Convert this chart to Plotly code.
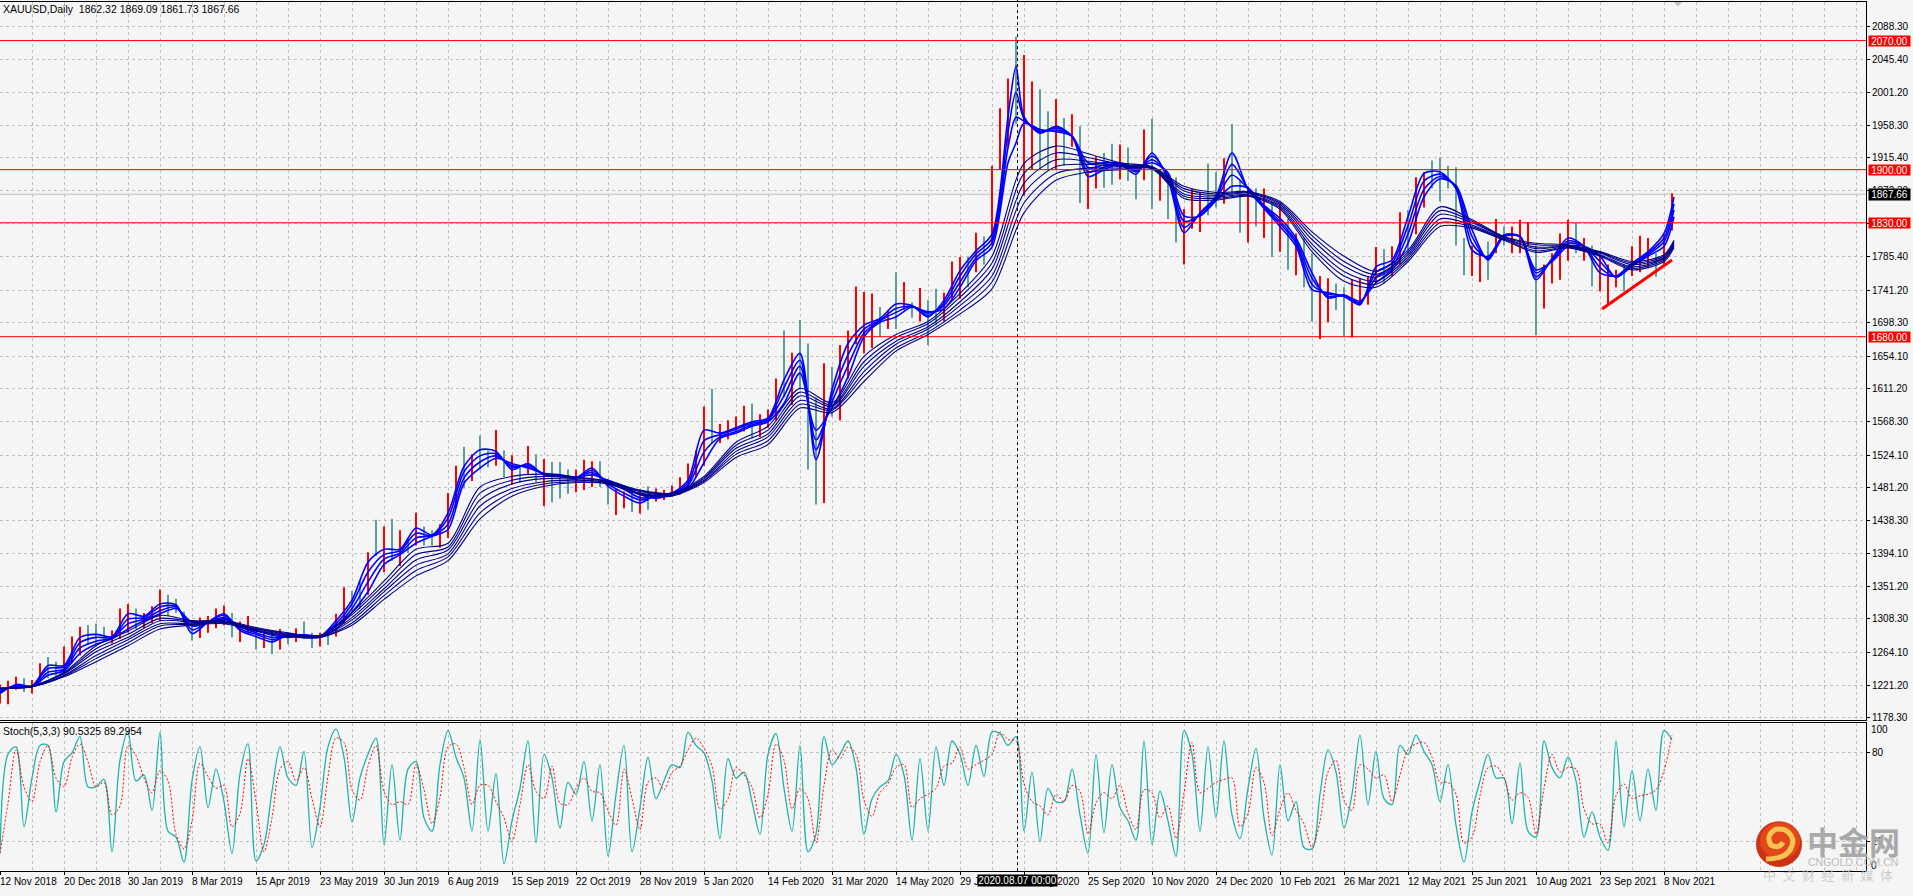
import plotly.graph_objects as go

W, H = 1913, 896
# ---------- price data ----------
bar_index = list(range(0, 840, 4))
bar_high = [1222,1227,1232,1230,1228,1250,1258,1252,1272,1285,1298,1300,1302,1298,1293,1322,1328,1322,1316,1325,1347,1340,1335,1318,1304,1310,1312,1322,1326,1316,1305,1312,1296,1290,1292,1295,1290,1296,1305,1290,1290,1288,1315,1350,1345,1358,1396,1439,1430,1440,1425,1415,1448,1430,1425,1433,1474,1510,1535,1525,1550,1530,1557,1530,1524,1510,1536,1525,1519,1515,1515,1505,1505,1518,1516,1516,1493,1480,1476,1475,1478,1483,1480,1478,1484,1495,1513,1530,1588,1611,1565,1570,1575,1589,1592,1578,1584,1625,1688,1659,1702,1671,1600,1645,1640,1669,1688,1746,1739,1737,1719,1715,1765,1752,1725,1744,1728,1743,1738,1779,1785,1785,1817,1812,1905,1981,2020,2075,2051,2016,2006,1977,1993,1968,1973,1957,1900,1918,1922,1934,1933,1929,1895,1953,1967,1900,1895,1890,1848,1875,1870,1908,1897,1915,1960,1885,1878,1875,1875,1855,1855,1835,1816,1810,1790,1760,1757,1750,1745,1755,1757,1760,1798,1795,1799,1844,1847,1890,1897,1912,1916,1905,1903,1810,1800,1795,1805,1835,1825,1825,1834,1831,1800,1775,1790,1816,1834,1830,1810,1800,1788,1775,1768,1775,1799,1813,1810,1790,1815,1869]
bar_low = [1197,1196,1215,1212,1210,1225,1230,1232,1235,1250,1260,1275,1275,1279,1276,1282,1290,1295,1296,1303,1306,1312,1316,1300,1280,1283,1290,1296,1300,1284,1278,1288,1268,1270,1262,1268,1275,1278,1282,1270,1272,1274,1285,1302,1318,1322,1340,1391,1370,1385,1378,1395,1405,1405,1405,1402,1415,1455,1480,1490,1505,1508,1510,1495,1485,1488,1498,1488,1457,1462,1467,1473,1475,1478,1482,1482,1459,1445,1454,1449,1447,1452,1463,1465,1470,1472,1480,1495,1510,1540,1540,1545,1555,1555,1546,1548,1560,1570,1600,1590,1610,1505,1459,1461,1575,1570,1625,1670,1658,1665,1680,1690,1690,1715,1705,1700,1669,1695,1700,1730,1730,1745,1765,1775,1800,1900,1930,1960,1866,1900,1900,1900,1900,1905,1930,1856,1848,1875,1876,1880,1887,1885,1861,1886,1848,1859,1835,1804,1775,1822,1818,1840,1850,1855,1865,1817,1804,1825,1810,1785,1792,1768,1761,1745,1700,1677,1699,1715,1680,1679,1725,1722,1750,1750,1760,1775,1790,1815,1850,1875,1858,1875,1800,1761,1760,1752,1755,1790,1800,1790,1790,1800,1682,1717,1750,1755,1780,1790,1780,1746,1740,1722,1745,1740,1760,1765,1770,1759,1775,1820]
bar_rising = [1,1,1,0,1,1,0,0,1,1,1,0,0,0,1,1,1,0,1,1,1,0,0,0,0,1,1,1,1,0,1,1,0,1,0,1,0,1,0,0,1,0,1,1,0,0,1,0,1,0,1,0,1,0,0,1,1,1,0,1,0,0,1,0,1,0,1,0,1,0,0,0,1,1,1,0,0,1,1,0,1,0,1,1,1,1,1,1,1,0,1,1,1,1,0,1,1,1,0,1,0,0,0,1,0,1,1,1,1,1,0,1,0,1,0,1,0,0,1,1,1,0,1,0,1,1,1,0,1,1,0,0,1,0,1,0,1,1,0,0,1,0,0,1,0,1,0,0,1,1,1,0,0,1,0,0,1,0,1,0,1,0,1,0,0,1,1,0,0,1,1,1,1,0,1,1,0,1,1,0,0,0,0,0,1,1,0,1,0,1,1,1,0,1,1,1,1,0,1,0,1,1,1,0,1,1,1,0,1,1]

fast_bars = [0,8,16,24,32,40,48,56,64,72,80,88,96,104,112,120,128,136,144,152,160,168,176,184,192,200,208,216,224,232,240,248,256,264,272,280,288,296,304,312,320,328,336,344,352,360,368,376,384,392,400,408,416,424,432,440,448,456,464,472,480,488,496,504,508,512,520,528,536,544,552,560,568,576,584,592,600,608,616,624,632,640,648,656,664,672,680,688,696,704,712,720,728,736,744,752,760,768,776,784,792,800,808,816,824,832,837]
ema_fast_1 = [1210,1222,1220,1247,1247,1284,1288,1285,1315,1312,1328,1327,1289,1304,1315,1293,1285,1278,1287,1287,1285,1306,1333,1383,1400,1400,1428,1419,1448,1509,1531,1529,1505,1513,1498,1496,1494,1507,1483,1470,1461,1472,1474,1491,1557,1553,1560,1568,1573,1623,1658,1518,1610,1671,1695,1704,1723,1721,1706,1728,1767,1793,1815,1970,2036,1970,1948,1957,1944,1891,1900,1907,1894,1922,1887,1817,1843,1865,1922,1874,1849,1825,1799,1742,1738,1733,1722,1772,1781,1838,1895,1897,1875,1794,1786,1814,1812,1755,1783,1810,1799,1764,1760,1777,1792,1816,1864]
ema_fast_2 = [1212,1221,1220,1243,1245,1277,1284,1284,1308,1310,1324,1325,1294,1304,1313,1295,1288,1281,1286,1287,1285,1302,1328,1370,1393,1398,1421,1418,1441,1502,1523,1526,1508,1511,1499,1497,1494,1504,1486,1474,1465,1470,1474,1487,1543,1551,1558,1566,1571,1613,1649,1531,1602,1656,1690,1702,1717,1720,1708,1724,1760,1789,1809,1950,2002,1967,1950,1955,1944,1897,1903,1908,1897,1918,1890,1824,1842,1863,1907,1875,1850,1829,1803,1749,1736,1734,1724,1765,1777,1826,1885,1894,1876,1803,1784,1813,1812,1759,1782,1806,1799,1771,1759,1776,1790,1810,1855]
ema_fast_3 = [1214,1220,1219,1238,1242,1270,1279,1283,1302,1308,1319,1324,1299,1304,1310,1298,1290,1284,1285,1287,1286,1299,1322,1357,1387,1395,1415,1418,1433,1494,1515,1523,1510,1509,1499,1497,1495,1501,1488,1479,1468,1469,1473,1484,1528,1548,1555,1564,1570,1602,1641,1544,1594,1642,1685,1701,1712,1720,1711,1721,1752,1784,1804,1929,1969,1964,1951,1952,1944,1903,1906,1908,1899,1913,1893,1832,1840,1861,1893,1875,1852,1832,1806,1757,1733,1734,1725,1758,1772,1815,1874,1891,1878,1812,1783,1813,1812,1764,1780,1803,1799,1779,1759,1774,1788,1805,1847]
ema_fast_4 = [1216,1219,1219,1234,1240,1263,1275,1282,1295,1306,1315,1322,1304,1304,1308,1300,1293,1287,1284,1287,1286,1295,1317,1344,1380,1393,1408,1417,1426,1487,1507,1520,1513,1507,1500,1498,1495,1498,1491,1483,1472,1467,1473,1480,1514,1546,1553,1562,1568,1592,1632,1557,1586,1627,1680,1699,1706,1719,1713,1717,1745,1780,1798,1909,1935,1961,1953,1950,1944,1909,1909,1909,1902,1909,1896,1839,1839,1859,1878,1876,1853,1836,1810,1764,1731,1735,1727,1751,1768,1803,1864,1888,1879,1821,1781,1812,1812,1768,1779,1799,1799,1786,1758,1773,1786,1799,1838]

slow_bars = [0,16,32,48,64,80,96,112,128,144,160,176,192,208,224,240,256,272,288,304,320,336,352,368,384,400,416,432,448,464,480,496,512,528,544,560,576,592,608,624,640,656,672,688,704,720,736,752,768,784,800,816,832,837]
ema_slow_1 = [1217,1220,1238,1273,1292,1313,1306,1306,1297,1290,1286,1317,1358,1400,1408,1482,1496,1499,1495,1490,1478,1474,1496,1541,1562,1612,1593,1654,1683,1700,1737,1786,1908,1931,1921,1909,1904,1878,1870,1871,1858,1818,1786,1766,1794,1851,1834,1812,1803,1801,1792,1779,1788,1807]
ema_slow_2 = [1217,1220,1237,1269,1288,1309,1305,1305,1296,1289,1286,1314,1353,1393,1403,1474,1491,1496,1494,1489,1477,1473,1494,1537,1557,1607,1590,1647,1679,1697,1732,1777,1895,1922,1916,1907,1903,1875,1868,1870,1856,1813,1779,1762,1791,1846,1832,1811,1801,1800,1791,1777,1786,1805]
ema_slow_3 = [1217,1220,1236,1265,1284,1306,1304,1304,1295,1288,1285,1310,1348,1386,1399,1465,1486,1493,1492,1488,1476,1472,1493,1533,1552,1602,1588,1641,1674,1693,1726,1769,1882,1913,1911,1905,1903,1872,1866,1869,1854,1808,1773,1758,1788,1841,1830,1810,1798,1799,1790,1775,1784,1803]
ema_slow_4 = [1217,1219,1234,1260,1281,1302,1302,1304,1294,1287,1285,1307,1344,1379,1394,1457,1480,1489,1491,1488,1474,1472,1491,1529,1548,1596,1585,1634,1670,1690,1721,1760,1869,1904,1907,1904,1902,1868,1864,1867,1852,1802,1766,1753,1785,1835,1827,1809,1796,1799,1788,1772,1783,1801]
ema_slow_5 = [1217,1219,1233,1256,1277,1299,1301,1303,1293,1286,1284,1303,1339,1372,1390,1448,1475,1486,1489,1487,1473,1471,1490,1525,1543,1591,1583,1628,1665,1686,1715,1752,1856,1895,1902,1902,1902,1865,1862,1866,1850,1797,1760,1749,1782,1830,1825,1808,1793,1798,1787,1770,1781,1799]
ema_slow_6 = [1217,1219,1232,1252,1273,1295,1300,1302,1292,1285,1284,1300,1334,1365,1385,1440,1470,1483,1488,1486,1472,1470,1488,1521,1538,1586,1580,1621,1661,1683,1710,1743,1843,1886,1897,1900,1901,1862,1860,1865,1848,1792,1753,1745,1779,1825,1823,1807,1791,1797,1786,1768,1779,1797]

level_prices = [2070, 1900, 1830, 1680]
level_labels = ["2070.00", "1900.00", "1830.00", "1680.00"]
last_price = 1867.66
last_label = "1867.66"
trend_bars = [801, 836]
trend_prices = [1716.4, 1781]
separator_bar = 508.75
separator_label = "2020.08.07 00:00"

price_ticks = [2088.30,2045.40,2001.20,1958.30,1915.40,1872.30,1829.30,1785.40,1741.20,1698.30,1654.10,1611.20,1568.30,1524.10,1481.20,1438.30,1394.10,1351.20,1308.30,1264.10,1221.20,1178.30]
price_tick_text = [f"{v:.2f}" for v in price_ticks]

date_bars = list(range(0, 864, 32))
date_labels = ["12 Nov 2018","20 Dec 2018","30 Jan 2019","8 Mar 2019","15 Apr 2019","23 May 2019","30 Jun 2019","6 Aug 2019","15 Sep 2019","22 Oct 2019","28 Nov 2019","5 Jan 2020","14 Feb 2020","31 Mar 2020","14 May 2020","29 Jun 2020","11 Aug 2020","25 Sep 2020","10 Nov 2020","24 Dec 2020","10 Feb 2021","26 Mar 2021","12 May 2021","25 Jun 2021","10 Aug 2021","23 Sep 2021","8 Nov 2021"]

# ---------- stochastic data ----------
stoch_bars = list(range(0, 840, 4))
stoch_main = [12,79,84,30,63,85,85,40,74,80,91,57,57,62,13,75,94,61,65,41,94,27,23,6,61,84,43,69,47,12,66,86,7,18,54,84,63,58,81,16,43,84,96,77,33,63,79,90,18,72,21,69,74,36,27,72,95,77,63,27,89,27,66,
5,34,56,88,19,79,63,29,60,52,74,34,72,10,52,85,13,43,77,49,61,72,70,94,85,80,61,22,76,63,67,47,25,79,93,56,27,85,13,25,91,72,79,88,70,25,49,57,61,79,65,21,76,27,84,58,88,79,58,85,64,94,93,
85,91,27,67,20,56,47,47,69,38,12,79,26,72,43,34,21,88,18,54,34,10,95,79,27,84,36,88,38,22,56,83,36,11,72,34,47,16,15,52,82,67,29,52,92,45,81,49,45,85,79,92,81,72,47,72,31,6,40,61,79,63,
63,32,73,27,23,88,70,63,77,61,23,40,23,14,88,30,68,34,69,41,95,89]
stoch_signal = [12,46,82,57,47,74,85,63,57,77,86,74,57,60,38,44,85,78,63,53,68,61,25,15,34,73,64,56,58,30,39,76,47,13,36,69,74,61,70,49,30,64,90,87,55,48,71,85,54,45,47,45,72,55,32,50,84,86,70,45,58,58,47,
36,20,45,72,54,49,71,46,45,56,63,54,53,41,31,69,49,28,60,63,55,67,71,82,90,83,71,42,49,70,65,57,36,52,86,75,42,56,49,19,58,82,76,84,79,48,37,53,59,70,72,43,49,52,56,71,73,84,69,72,75,79,94,
89,88,59,47,44,38,52,47,58,54,25,46,53,49,58,39,28,55,53,36,44,22,53,87,53,56,60,62,63,30,39,70,60,24,42,53,41,32,16,34,67,75,48,41,72,69,63,65,47,65,82,86,87,77,60,60,52,19,23,51,70,71,
63,48,53,50,25,56,79,67,70,69,42,32,32,19,51,59,49,51,52,55,68,92]

# ---------- page geometry helpers ----------
BG = "#f5f5f5"; GRID = "#c0c0c0"; RED = "#ff0000"; TEAL = "#5f9ea0"; BLUE = "#0000ff"; NAVY = "#00008b"
FONT = "Liberation Sans"
def px(x): return x / W
def py(y): return 1 - y / H
DASH = "3px,3px"
RIGHT = px(1866)

traces = []
traces.append(go.Bar(x=bar_index, y=[h - l for h, l in zip(bar_high, bar_low)], base=bar_low, width=0.75,
                     marker=dict(color=[RED if r else TEAL for r in bar_rising], line=dict(width=0)), hoverinfo="skip"))
for series in (ema_fast_4, ema_fast_3, ema_fast_2, ema_fast_1):
    traces.append(go.Scatter(x=fast_bars, y=series, mode="lines", line=dict(color=BLUE, width=1.6, shape="spline", smoothing=0.8), hoverinfo="skip"))
for series in (ema_slow_6, ema_slow_5, ema_slow_4, ema_slow_3, ema_slow_2, ema_slow_1):
    traces.append(go.Scatter(x=slow_bars, y=series, mode="lines", line=dict(color=NAVY, width=1.1, shape="spline", smoothing=0.8), hoverinfo="skip"))
traces.append(go.Scatter(x=trend_bars, y=trend_prices, mode="lines", line=dict(color=RED, width=3), hoverinfo="skip"))
traces.append(go.Scatter(x=stoch_bars, y=stoch_main, xaxis="x2", yaxis="y2", mode="lines",
                         line=dict(color="#20b2aa", width=1.3, shape="spline", smoothing=0.9), hoverinfo="skip"))
traces.append(go.Scatter(x=stoch_bars, y=stoch_signal, xaxis="x2", yaxis="y2", mode="lines",
                         line=dict(color=RED, width=1, dash="2px,2px", shape="spline", smoothing=0.9), hoverinfo="skip"))

shapes = []
# ask line and horizontal levels
shapes.append(dict(type="line", xref="paper", yref="y", x0=0, x1=RIGHT, y0=last_price, y1=last_price,
                   line=dict(color=GRID, width=1), layer="below"))
for p in level_prices:
    shapes.append(dict(type="line", xref="paper", yref="y", x0=0, x1=RIGHT, y0=p, y1=p, line=dict(color=RED, width=1)))
# separator
shapes.append(dict(type="line", xref="x", yref="paper", x0=separator_bar, x1=separator_bar, y0=py(874), y1=py(0),
                   line=dict(color="#000000", width=1, dash=DASH)))
# chart-shift triangle
shapes.append(dict(type="path", xref="paper", yref="paper", fillcolor="#c0c0c0", line=dict(width=0),
                   path=f"M {px(1674)} {py(2)} L {px(1682)} {py(2)} L {px(1678)} {py(6.5)} Z"))
# watermark logo
shapes.append(dict(type="circle", xref="paper", yref="paper", x0=px(1756), x1=px(1802), y0=py(870), y1=py(824),
                   fillcolor="#cc3218", line=dict(width=0)))
shapes.append(dict(type="circle", xref="paper", yref="paper", x0=px(1760), x1=px(1800), y0=py(862), y1=py(825),
                   fillcolor="#e2471a", line=dict(width=0)))
def swirl(pts):
    s = f"M {px(pts[0][0])} {py(pts[0][1])}"
    for a, b in zip(pts[1::2], pts[2::2]):
        s += f" Q {px(a[0])} {py(a[1])} {px(b[0])} {py(b[1])}"
    return s
shapes.append(dict(type="path", xref="paper", yref="paper", line=dict(color="#f6c453", width=5),
                   path=swirl([(1766,862),(1792,862),(1793,843),(1789,830),(1776,832),(1765,838),(1771,848),(1779,852),(1783,845)])))

annotations = []
def text(x, y, s, size=10, color="#000000", anchor="left", family=FONT, **kw):
    annotations.append(dict(xref="paper", yref="paper", x=px(x), y=py(y), text=s, showarrow=False, xanchor=anchor,
                            yanchor="middle", font=dict(family=family, size=size, color=color),
                            borderpad=0, borderwidth=0, **kw))
text(3, 9.5, "XAUUSD,Daily&nbsp;&nbsp;1862.32 1869.09 1861.73 1867.66", size=10.5)
text(3, 733.5, "Stoch(5,3,3) 90.5325 89.2954", size=10.5)
text(1871, 731.5, "100")
text(1871, 868, "0")
for b, s in zip(date_bars, date_labels):
    annotations.append(dict(xref="x2", yref="paper", x=b, xshift=-2, y=py(884), text=s, showarrow=False, xanchor="left",
                            yanchor="middle", font=dict(family=FONT, size=10, color="#000000")))
for p, s in zip(level_prices, level_labels):
    annotations.append(dict(xref="paper", yref="y", x=px(1868), y=p, text=s, showarrow=False, xanchor="left",
                            yanchor="middle", bgcolor=RED, width=41, height=10, align="center", borderpad=0,
                            font=dict(family=FONT, size=10, color="#ffffff")))
annotations.append(dict(xref="paper", yref="y", x=px(1868), y=last_price, text=last_label, showarrow=False, xanchor="left",
                        yanchor="middle", bgcolor="#000000", width=41, height=11, align="center", borderpad=0,
                        font=dict(family=FONT, size=10, color="#ffffff")))
annotations.append(dict(xref="x2", yref="paper", x=separator_bar, y=py(883.5), text=separator_label, showarrow=False,
                        xanchor="center", yanchor="middle", bgcolor="#000000", width=79, height=11, align="center",
                        borderpad=0, font=dict(family=FONT, size=10, color="#ffffff")))
text(1853, 843, "<b>中金网</b>", size=31, color="#a9a9a9", anchor="center", family="Noto Sans CJK SC")
text(1853, 864.5, "CNGOLD.COM.CN", size=10.5, color="#bdbdbd", anchor="center")
text(1828, 877.5, "中\u2002文\u2002财\u2002经\u2002新\u2002媒\u2002体", size=13, color="#cfcfcf", anchor="center", family="Noto Sans CJK SC")

grid = dict(showgrid=True, gridcolor=GRID, gridwidth=1, griddash=DASH, zeroline=False)
layout = go.Layout(
    width=W, height=H, autosize=False, margin=dict(l=0, r=0, t=0, b=0, pad=0),
    paper_bgcolor=BG, plot_bgcolor=BG, showlegend=False, hovermode=False, barmode="overlay",
    font=dict(family=FONT, size=10, color="#000000"),
    xaxis=dict(domain=[0, RIGHT], range=[0, 933], anchor="y", tickmode="linear", tick0=0, dtick=16,
               showticklabels=False, ticks="", showline=True, mirror=True, linecolor="#000000", linewidth=1, **grid),
    yaxis=dict(domain=[py(722.7), py(2)], range=[1174.8, 2120.8], side="right", anchor="x", tickmode="array",
               tickvals=price_ticks, ticktext=price_tick_text, ticks="outside", ticklen=3, tickcolor="#000000",
               showline=True, linecolor="#000000", linewidth=1, tickfont=dict(family=FONT, size=10), **grid),
    xaxis2=dict(domain=[0, RIGHT], range=[0, 933], anchor="y2", tickmode="array", tickvals=date_bars,
                ticktext=[""] * len(date_bars), ticks="outside", ticklen=3, tickcolor="#000000",
                minor=dict(tickmode="linear", tick0=0, dtick=16, showgrid=True, gridcolor=GRID, gridwidth=1, griddash=DASH, ticks=""),
                showline=True, mirror=True, linecolor="#000000", linewidth=1, **grid),
    yaxis2=dict(domain=[py(874), py(725.7)], range=[0, 100], side="right", anchor="x2", tickmode="array",
                tickvals=[20, 80], ticktext=["20", "80"], ticks="outside", ticklen=3, tickcolor="#000000",
                showline=True, linecolor="#000000", linewidth=1, tickfont=dict(family=FONT, size=10), **grid),
    shapes=shapes, annotations=annotations,
)
fig = go.Figure(data=traces, layout=layout)
fig.write_html("out.html", config=dict(displayModeBar=False),
               post_script="document.body.style.margin='0';document.body.style.overflow='hidden';")
